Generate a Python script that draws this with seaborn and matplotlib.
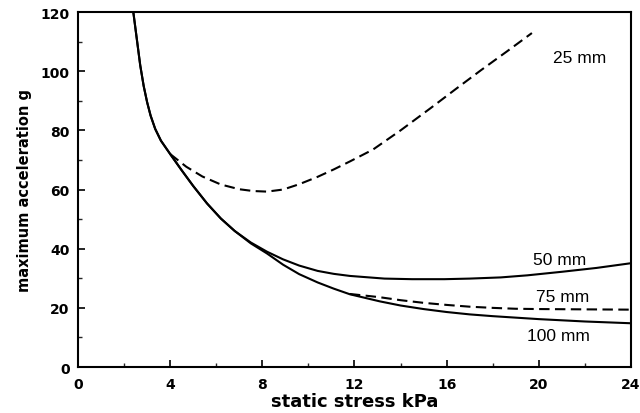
import matplotlib
matplotlib.use("Agg")
import matplotlib.pyplot as plt
import seaborn as sns
import pandas as pd
from matplotlib.ticker import MultipleLocator

# steep part shared by all thicknesses
x_common = [2.4, 2.5, 2.6, 2.7, 2.85, 3.0, 3.15, 3.35, 3.6, 4.0, 4.5, 5.0, 5.6, 6.2, 6.8]
y_common = [120, 114, 108, 102, 95, 89.5, 85, 80.5, 76.5, 72, 66.5, 61.2, 55.3, 50.2, 46]

x_25 = [4.0, 4.7, 5.4, 6.2, 7.0, 7.6, 8.2, 8.9, 9.6, 10.4, 11.1, 11.8, 12.8, 14.0,
        15.3, 16.4, 17.5, 18.6, 19.7]
y_25 = [72, 67.7, 64.4, 61.7, 60.1, 59.5, 59.3, 60.0, 61.8, 64.3, 66.8, 69.5, 73.5,
        80.0, 87.5, 94.0, 100.4, 106.6, 112.9]

x_50 = x_common + [7.5, 8.2, 8.9, 9.6, 10.4, 11.1, 11.8, 13.3, 14.5, 15.9, 17.0,
                   18.35, 19.5, 21.0, 22.5, 24.0]
y_50 = y_common + [42.1, 39.0, 36.4, 34.3, 32.5, 31.5, 30.8, 29.9, 29.7, 29.7, 29.9,
                   30.3, 31.0, 32.2, 33.5, 35.1]

x_75 = [11.8, 12.4, 13.1, 14.0, 15.0, 16.0, 17.0, 18.0, 19.0, 20.0, 22.0, 24.0]
y_75 = [24.7, 24.2, 23.6, 22.6, 21.7, 21.0, 20.4, 20.0, 19.7, 19.6, 19.5, 19.4]

x_100 = x_common + [7.5, 8.2, 8.9, 9.6, 10.4, 11.1, 11.8, 13.1, 14.0, 15.0, 16.0,
                    17.0, 18.0, 19.0, 20.0, 21.0, 22.0, 23.0, 24.0]
y_100 = y_common + [41.8, 38.4, 34.6, 31.4, 28.6, 26.5, 24.6, 22.2, 20.8, 19.6, 18.6,
                    17.8, 17.2, 16.7, 16.2, 15.8, 15.4, 15.1, 14.8]

labels = ["25 mm", "50 mm", "75 mm", "100 mm"]
label_pos_x = [20.6, 19.74, 19.87, 19.48]
label_pos_y = [104.8, 36.4, 23.9, 10.8]

x_ticks = [0, 4, 8, 12, 16, 20, 24]
y_ticks = [0, 20, 40, 60, 80, 100, 120]

sns.set_theme(style="ticks")
plt.rcParams["font.family"] = ["DejaVu Sans"]

fig = plt.figure(figsize=(6.4, 4.14), dpi=100)
ax = fig.add_axes([0.1219, 0.111, 0.864, 0.8575])

series = [
    (x_50, y_50, "-"),
    (x_100, y_100, "-"),
    (x_25, y_25, (0, (5, 2.6))),
    (x_75, y_75, (0, (5, 2.6))),
]
for xs, ys, ls in series:
    df = pd.DataFrame({"x": xs, "y": ys})
    sns.lineplot(data=df, x="x", y="y", ax=ax, color="black", linewidth=1.5,
                 linestyle=ls, sort=False, estimator=None)

for lab, lx, ly in zip(labels, label_pos_x, label_pos_y):
    ax.text(lx, ly, lab, fontsize=12.5, color="black", va="center", ha="left",
            family=["Liberation Sans", "DejaVu Sans"])

ax.set_xlim(0, 24)
ax.set_ylim(0, 120)
ax.set_xticks(x_ticks)
ax.set_yticks(y_ticks)
ax.xaxis.set_minor_locator(MultipleLocator(2))
ax.yaxis.set_minor_locator(MultipleLocator(10))
ax.tick_params(axis="both", which="major", direction="in", length=5, width=1.2,
               labelsize=10, colors="black")
ax.tick_params(axis="both", which="minor", direction="in", length=3, width=1.0)
ax.tick_params(axis="x", which="major", pad=7)
ax.tick_params(axis="y", which="major", pad=6)
for lab in ax.get_xticklabels() + ax.get_yticklabels():
    lab.set_fontweight("bold")
for sp in ax.spines.values():
    sp.set_visible(True)
    sp.set_linewidth(1.5)
    sp.set_color("black")

ax.set_xlabel("static stress kPa", fontsize=13, fontweight="bold", labelpad=1,
              color="black")
ax.set_ylabel("maximum acceleration g", fontsize=10.5, fontweight="bold",
              labelpad=6, color="black")

fig.savefig("out.png", dpi=100)
